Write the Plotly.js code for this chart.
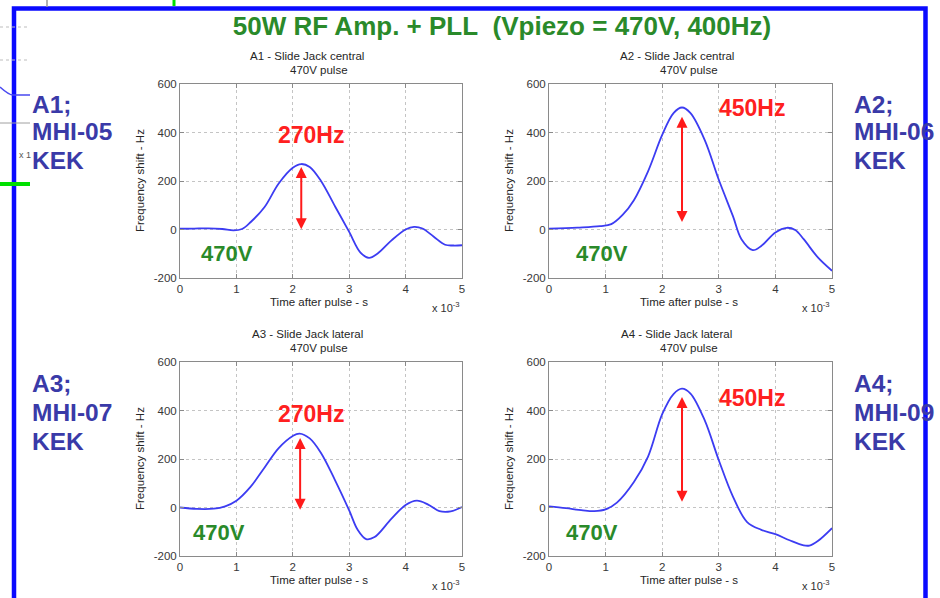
<!DOCTYPE html>
<html>
<head>
<meta charset="utf-8">
<script src="https://cdn.plot.ly/plotly-3.0.1.min.js"></script>
<style>html,body{margin:0;padding:0;background:#fff;}#chart{width:940px;height:598px;}</style>
</head>
<body>
<div id="chart"></div>
<script>
// ---- Data (time in ms, i.e. x 10^-3 s; frequency shift in Hz) ----
const t1 = [0,0.25,0.5,0.75,0.95,1.1,1.25,1.5,1.75,2.0,2.15,2.3,2.5,2.75,3.0,3.2,3.35,3.5,3.75,4.0,4.15,4.3,4.5,4.7,4.85,5.0];
const v1 = [3,4,5,2,-4,2,30,93,190,255,270,258,200,95,-10,-95,-117,-100,-45,0,11,4,-30,-63,-66,-65];

const t2 = [0,0.5,0.9,1.1,1.3,1.5,1.75,2.0,2.2,2.35,2.5,2.75,3.0,3.25,3.4,3.6,3.75,4.0,4.2,4.35,4.5,4.75,5.0];
const v2 = [3,8,14,22,60,121,240,390,480,503,480,370,205,55,-40,-85,-68,-12,7,-2,-40,-115,-170];

const t3 = [0,0.3,0.6,0.8,1.0,1.25,1.5,1.75,2.0,2.12,2.3,2.5,2.75,3.0,3.15,3.3,3.45,3.75,4.0,4.2,4.4,4.6,4.8,5.0];
const v3 = [0,-6,-5,5,28,85,165,245,295,305,285,225,112,-12,-92,-130,-122,-46,10,28,12,-15,-16,2];

const t4 = [0,0.3,0.6,0.8,1.0,1.2,1.5,1.75,2.0,2.2,2.35,2.5,2.75,3.0,3.25,3.5,3.75,4.0,4.25,4.5,4.6,4.75,5.0];
const v4 = [5,-3,-12,-15,-8,20,105,210,385,468,490,470,360,195,45,-60,-92,-110,-135,-156,-157,-138,-85];

const plotTitles = ["A1 - Slide Jack central","A2 - Slide Jack central","A3 - Slide Jack lateral","A4 - Slide Jack lateral"];
const pulseLabel = "470V pulse";
const cavityLines = [["A1;","MHI-05","KEK"],["A2;","MHI-06","KEK"],["A3;","MHI-07","KEK"],["A4;","MHI-09","KEK"]];
const shiftLabels = ["270Hz","450Hz","270Hz","450Hz"];
const voltLabel = "470V";
const arrowT = [2.15, 2.35, 2.13, 2.35];
const arrowLow = [-5, 25, -15, 18];
const arrowHigh = [258, 465, 287, 456];
const xTicks = [0,1,2,3,4,5];
const yTicks = [-200,0,200,400,600];
const mainTitle = "50W RF Amp. + PLL\u00a0\u00a0(Vpiezo = 470V, 400Hz)";

// ---- Layout helpers (pixel -> paper) ----
const W = 940, H = 598;
const px = x => x / W;
const py = y => 1 - y / H;
const FONT = "Arial, 'Liberation Sans', sans-serif";

const ts = [t1,t2,t3,t4], vs = [v1,v2,v3,v4];
const xDom = [[180,462],[549,832]];
const yDom = [[84,278],[362,556]];

const traces = [];
const layout = {
  width: W, height: H,
  margin: {l:0,r:0,t:0,b:0},
  paper_bgcolor: '#ffffff', plot_bgcolor: '#ffffff',
  showlegend: false,
  font: {family: FONT, color: '#333'},
  title: {text: mainTitle, x: px(502), y: py(26), xref: 'paper', yref: 'paper',
          xanchor: 'center', yanchor: 'middle',
          font: {family: FONT, size: 26, color: '#2a8a2a', weight: 'bold'}},
  annotations: [], shapes: []
};

for (let i = 0; i < 4; i++) {
  const col = i % 2, row = Math.floor(i / 2);
  const n = i + 1;
  const xa = 'x' + (n === 1 ? '' : n), ya = 'y' + (n === 1 ? '' : n);
  const xk = 'xaxis' + (n === 1 ? '' : n), yk = 'yaxis' + (n === 1 ? '' : n);
  traces.push({x: ts[i], y: vs[i], type: 'scatter', mode: 'lines', xaxis: xa, yaxis: ya,
    line: {color: '#3c3cf2', width: 1.8, shape: 'spline', smoothing: 1.0}, hoverinfo: 'skip'});
  const common = {showline: true, mirror: 'ticks', linecolor: '#8a8a8a', linewidth: 1,
    ticks: 'inside', ticklen: 4, tickcolor: '#8a8a8a', showgrid: true, gridcolor: '#c4c4c4',
    griddash: 'dot', gridwidth: 1, zeroline: false, tickfont: {family: FONT, size: 11.5, color: '#383838'},
    fixedrange: true};
  layout[xk] = Object.assign({}, common, {domain: [px(xDom[col][0]), px(xDom[col][1])],
    range: [0,5], tickvals: xTicks, ticktext: xTicks.map(String), anchor: ya});
  layout[yk] = Object.assign({}, common, {domain: [py(yDom[row][1]), py(yDom[row][0])],
    range: [-200,600], tickvals: yTicks, ticktext: yTicks.map(String), anchor: xa});

  const x0 = xDom[col][0], x1 = xDom[col][1], y0 = yDom[row][0], y1 = yDom[row][1];
  const cx = (x0 + x1) / 2, cy = (y0 + y1) / 2;
  const small = {family: FONT, size: 11.5, color: '#262626'};
  const A = layout.annotations;
  // subplot titles
  A.push({text: plotTitles[i], x: px(cx - 14), y: py(y0 - 28), xref: 'paper', yref: 'paper',
    showarrow: false, xanchor: 'center', yanchor: 'middle', font: small});
  A.push({text: pulseLabel, x: px(cx - 2), y: py(y0 - 14), xref: 'paper', yref: 'paper',
    showarrow: false, xanchor: 'center', yanchor: 'middle', font: small});
  // axis titles
  A.push({text: 'Frequency shift - Hz', textangle: -90, x: px(x0 - 40), y: py(cy), xref: 'paper', yref: 'paper',
    showarrow: false, xanchor: 'center', yanchor: 'middle', font: small});
  A.push({text: 'Time after pulse - s', x: px(cx - 2), y: py(y1 + 24), xref: 'paper', yref: 'paper',
    showarrow: false, xanchor: 'center', yanchor: 'middle', font: small});
  A.push({text: 'x 10<sup>-3</sup>', x: px(x1), y: py(y1 + 29), xref: 'paper', yref: 'paper',
    showarrow: false, xanchor: 'right', yanchor: 'middle', font: {family: FONT, size: 11, color: '#303030'}});
  // red double arrow
  A.push({x: arrowT[i], y: arrowHigh[i], ax: arrowT[i], ay: arrowLow[i], xref: xa, yref: ya,
    axref: xa, ayref: ya, text: '', showarrow: true, arrowside: 'end+start', arrowhead: 2,
    startarrowhead: 2, arrowsize: 1.1, startarrowsize: 1.1, arrowwidth: 2, arrowcolor: '#ff1a1a'});
  // shift label and voltage
  A.push({text: shiftLabels[i], x: px(col === 0 ? 311 : 752), y: py(row === 0 ? (col === 0 ? 135 : 108) : (col === 0 ? 414 : 398)),
    xref: 'paper', yref: 'paper', showarrow: false, xanchor: 'center', yanchor: 'middle',
    font: {family: FONT, size: 23, color: '#ff2020', weight: 'bold'}});
  A.push({text: voltLabel, x: px(col === 0 ? (row === 0 ? 227 : 219) : (row === 0 ? 602 : 592)), y: py(row === 0 ? 253 : 532),
    xref: 'paper', yref: 'paper', showarrow: false, xanchor: 'center', yanchor: 'middle',
    font: {family: FONT, size: 22, color: '#2a8a2a', weight: 'bold'}});
  // cavity labels, one line each
  const lineY = row === 0 ? [104, 132, 161] : [383, 412, 441];
  for (let k = 0; k < 3; k++) {
    A.push({text: cavityLines[i][k], x: px(col === 0 ? 30 : 852), y: py(lineY[k]), xref: 'paper', yref: 'paper',
      showarrow: false, xanchor: 'left', yanchor: 'middle', align: 'left',
      font: {family: FONT, size: 24.5, color: '#3a3aa8', weight: 'bold'}});
  }
}

// slide frame and remnants of neighbouring content
const S = layout.shapes;
S.push({type: 'rect', xref: 'paper', yref: 'paper', x0: px(14), x1: px(925.5), y0: py(640), y1: py(8.5),
  line: {color: '#0a0aff', width: 4.5}, fillcolor: 'rgba(0,0,0,0)', layer: 'above'});
S.push({type: 'line', xref: 'paper', yref: 'paper', x0: px(47), x1: px(47), y0: py(0), y1: py(7), line: {color: '#9a9a9a', width: 1.5}});
S.push({type: 'line', xref: 'paper', yref: 'paper', x0: px(174), x1: px(174), y0: py(0), y1: py(6), line: {color: '#00e000', width: 3}});
S.push({type: 'line', xref: 'paper', yref: 'paper', x0: px(0), x1: px(30), y0: py(27), y1: py(27), line: {color: '#bdbdbd', width: 1, dash: 'dot'}});
S.push({type: 'line', xref: 'paper', yref: 'paper', x0: px(0), x1: px(30), y0: py(60), y1: py(60), line: {color: '#bdbdbd', width: 1, dash: 'dot'}});
S.push({type: 'path', xref: 'paper', yref: 'paper', path: `M ${px(0)} ${py(87)} Q ${px(10)} ${py(96)} ${px(14)} ${py(95)} L ${px(30)} ${py(95)}`,
  line: {color: '#4a4af0', width: 1.5}});
S.push({type: 'line', xref: 'paper', yref: 'paper', x0: px(0), x1: px(30), y0: py(123), y1: py(123), line: {color: '#a0a0a0', width: 1}});
S.push({type: 'line', xref: 'paper', yref: 'paper', x0: px(0), x1: px(30), y0: py(184), y1: py(184), line: {color: '#00e000', width: 4}});
layout.annotations.push({text: 'x 1', x: px(17), y: py(155), xref: 'paper', yref: 'paper', showarrow: false,
  xanchor: 'left', yanchor: 'middle', font: {family: FONT, size: 9, color: '#555'}});

Plotly.newPlot('chart', traces, layout, {staticPlot: true, displayModeBar: false});
</script>
</body>
</html>
